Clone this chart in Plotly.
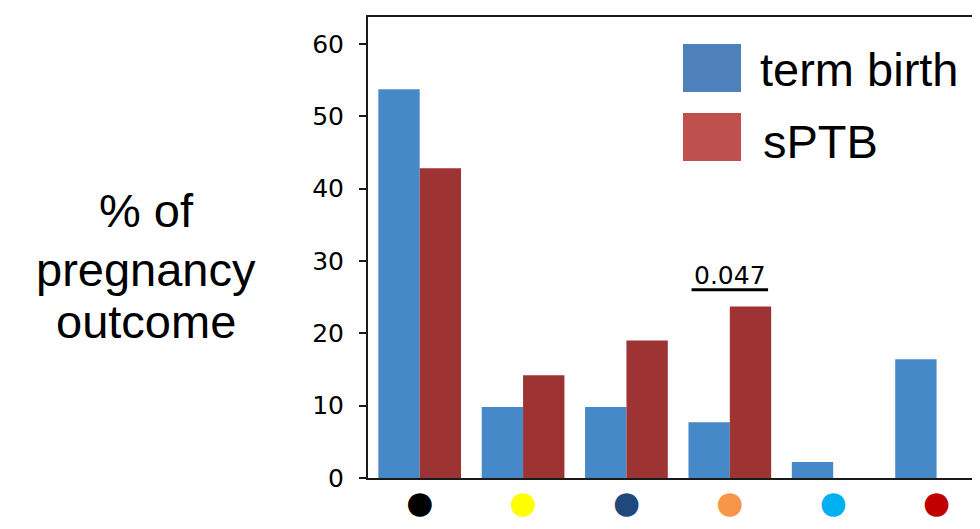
import plotly.graph_objects as go

# ---- data ----
categories = ["black", "yellow", "dark blue", "orange", "light blue", "red"]
dot_colors = ["#000000", "#FFFF00", "#1F497D", "#F79646", "#00B0F0", "#C00000"]
term_birth = [53.7, 9.8, 9.8, 7.7, 2.2, 16.4]
sptb = [42.8, 14.2, 19.0, 23.7, 0.0, 0.0]
y_ticks = [0, 10, 20, 30, 40, 50, 60]
ylabel_lines = ["% of", "pregnancy", "outcome"]
sig_label = "0.047"
sig_index = 3
legend_names = ["term birth", "sPTB"]

# ---- style ----
OFF = 8  # page body margin of the browser
W, H = 980 - OFF, 529 - 2 * OFF
ML, MR, MT = 368 - OFF, 0, 17 - OFF
MB = H - (478 - OFF)
PW, PH = W - ML - MR, H - MT - MB
BLUE, RED = "#4689C8", "#9E3334"
LEG_BLUE, LEG_RED = "#4F81BD", "#C0504D"


def px_x(p):
    return (p - OFF - ML) / PW


def px_y(p):
    return (H - MB - (p - OFF)) / PH


fig = go.Figure()
fig.add_trace(go.Bar(x=categories, y=term_birth, name=legend_names[0],
                     marker=dict(color=BLUE, line=dict(width=0)), showlegend=False))
fig.add_trace(go.Bar(x=categories, y=sptb, name=legend_names[1],
                     marker=dict(color=RED, line=dict(width=0)), showlegend=False))

tick_text = [f'<span style="color:{c}">●</span>' for c in dot_colors]

annotations = []
shapes = []

# y label (three centred lines)
for txt, yc in zip(ylabel_lines, [211, 269, 321]):
    annotations.append(dict(text=txt, xref="paper", yref="paper", x=px_x(146), y=px_y(yc),
                            xanchor="center", yanchor="middle", showarrow=False,
                            font=dict(family="Liberation Sans, Arial", size=47, color="#000000")))

# custom legend
for name, col, (y0, y1), tx, ty in [(legend_names[0], LEG_BLUE, (44, 92), 758, 70),
                                     (legend_names[1], LEG_RED, (113, 161), 761, 141)]:
    shapes.append(dict(type="rect", xref="paper", yref="paper",
                       x0=px_x(683), x1=px_x(741), y0=px_y(y1), y1=px_y(y0),
                       fillcolor=col, line=dict(width=0)))
    annotations.append(dict(text=name, xref="paper", yref="paper", x=px_x(tx), y=px_y(ty),
                            xanchor="left", yanchor="middle", showarrow=False,
                            font=dict(family="Liberation Sans, Arial", size=47, color="#000000")))

# significance marker
sig_top = sptb[sig_index]
annotations.append(dict(text=sig_label, x=sig_index, y=sig_top + 4.3, xref="x", yref="y",
                        xanchor="center", yanchor="middle", showarrow=False,
                        font=dict(family="DejaVu Sans", size=25, color="#000000")))
shapes.append(dict(type="line", xref="x", yref="y", x0=sig_index - 0.37, x1=sig_index + 0.37,
                   y0=sig_top + 2.3, y1=sig_top + 2.3, line=dict(color="#000000", width=3)))

fig.update_layout(
    width=W, height=H,
    margin=dict(l=ML, r=MR, t=MT, b=MB, pad=0),
    paper_bgcolor="white", plot_bgcolor="white",
    barmode="group", bargap=0.2, bargroupgap=0,
    showlegend=False,
    annotations=annotations, shapes=shapes,
    font=dict(family="DejaVu Sans", color="#000000"),
)
fig.update_xaxes(
    type="category", range=[-0.5, 5.42],
    tickmode="array", tickvals=categories, ticktext=tick_text,
    ticks="", showgrid=False, zeroline=False,
    showline=True, linecolor="#1a1a1a", linewidth=2, mirror=True,
    tickfont=dict(family="DejaVu Sans", size=31),
    ticklabelstandoff=-4,
)
fig.update_yaxes(
    range=[0, 63.7], tickmode="array", tickvals=y_ticks,
    ticks="outside", ticklen=7, tickwidth=1.5, tickcolor="#1a1a1a",
    showgrid=False, zeroline=False,
    showline=True, linecolor="#1a1a1a", linewidth=2, mirror=False,
    tickfont=dict(family="DejaVu Sans", size=25, color="#000000"),
    ticklabelstandoff=10,
)

fig.write_html("out.html")
